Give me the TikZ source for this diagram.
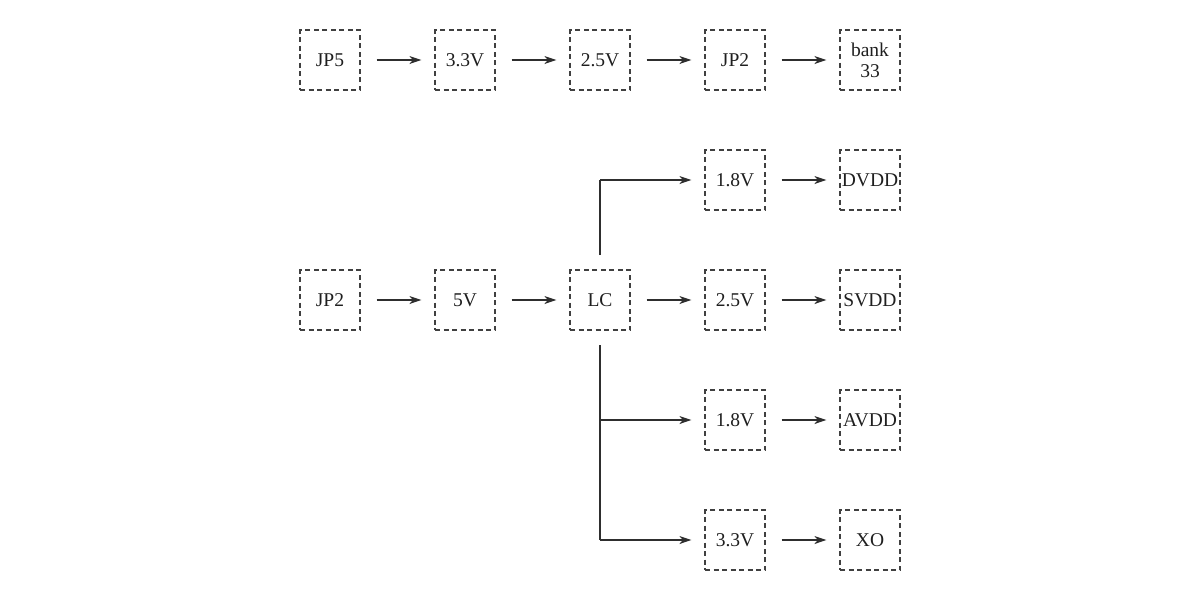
\documentclass[tikz,border=0pt]{standalone}
\usepackage{fontspec}
\setmainfont{Liberation Serif}
\usetikzlibrary{arrows.meta}
\begin{document}
\begin{tikzpicture}[x=1pt,y=-1pt,
  box/.style={draw=black!75, dashed, dash pattern=on 5pt off 3.5pt, line width=1.2pt, minimum width=60pt, minimum height=60pt, inner sep=0pt, align=center, font=\fontsize{19.5}{21}\selectfont, text=black!88},
  conn/.style={draw=black!82, line width=1.4pt, -{Stealth[length=12pt,width=8pt,inset=3.5pt]}, shorten >=13pt, shorten <=16pt},
  wire/.style={draw=black!82, line width=1.4pt}]
\useasboundingbox (0,0) rectangle (1200,600);
% row 1
\node[box] (a1) at (330,60) {JP5};
\node[box] (a2) at (465,60) {3.3V};
\node[box] (a3) at (600,60) {2.5V};
\node[box] (a4) at (735,60) {JP2};
\node[box] (a5) at (870,60) {bank\\33};
\draw[conn] (a1) -- (a2);
\draw[conn] (a2) -- (a3);
\draw[conn] (a3) -- (a4);
\draw[conn] (a4) -- (a5);
% row main
\node[box] (b1) at (330,300) {JP2};
\node[box] (b2) at (465,300) {5V};
\node[box] (lc) at (600,300) {LC};
\node[box] (c1) at (735,180) {1.8V};
\node[box] (c2) at (735,300) {2.5V};
\node[box] (c3) at (735,420) {1.8V};
\node[box] (c4) at (735,540) {3.3V};
\node[box] (d1) at (870,180) {DVDD};
\node[box] (d2) at (870,300) {SVDD};
\node[box] (d3) at (870,420) {AVDD};
\node[box] (d4) at (870,540) {XO};
\draw[conn] (b1) -- (b2);
\draw[conn] (b2) -- (lc);
\draw[conn] (lc) -- (c2);
\draw[conn] (c1) -- (d1);
\draw[conn] (c2) -- (d2);
\draw[conn] (c3) -- (d3);
\draw[conn] (c4) -- (d4);
% branches
\coordinate (up) at (600,255);
\coordinate (dn) at (600,345);
\coordinate (j1) at (600,180);
\coordinate (j3) at (600,420);
\coordinate (j4) at (600,540);
\draw[wire] (up) -- (j1);
\draw[conn, shorten <=0pt] (j1) -- (c1);
\draw[wire] (dn) -- (j4);
\draw[conn, shorten <=0pt] (j3) -- (c3);
\draw[conn, shorten <=0pt] (j4) -- (c4);
\end{tikzpicture}
\end{document}
